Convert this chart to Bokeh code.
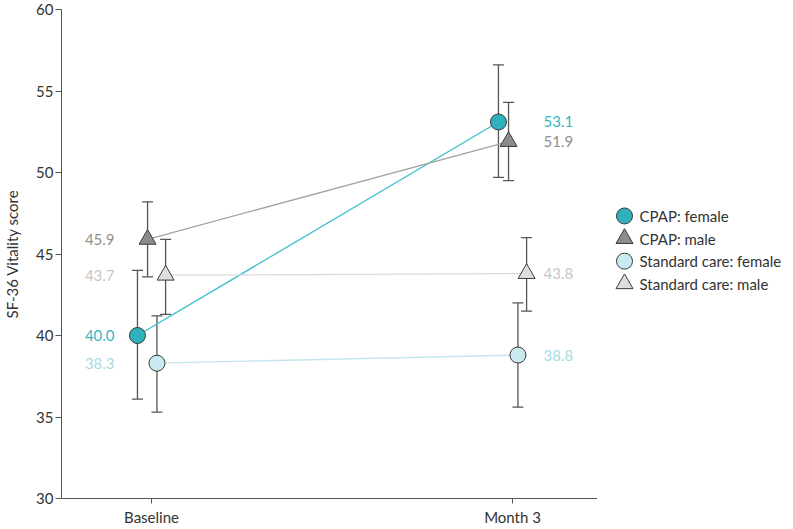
from bokeh.plotting import figure
from bokeh.layouts import row
from bokeh.models import (ColumnDataSource, Whisker, TeeHead, FixedTicker, Range1d)
from bokeh.core.properties import value
from bokeh.embed import file_html
from bokeh.resources import INLINE

# ---- data ----
timepoints = ["Baseline", "Month 3"]
groups = ["CPAP: female", "CPAP: male", "Standard care: female", "Standard care: male"]
mean_cpap_female = [40.0, 53.1]
mean_cpap_male = [45.9, 51.9]
mean_sc_female = [38.3, 38.8]
mean_sc_male = [43.7, 43.8]
lower_cpap_female = [36.1, 49.7]
upper_cpap_female = [44.0, 56.6]
lower_cpap_male = [43.6, 49.5]
upper_cpap_male = [48.2, 54.3]
lower_sc_female = [35.3, 35.6]
upper_sc_female = [41.2, 42.0]
lower_sc_male = [41.3, 41.5]
upper_sc_male = [45.9, 46.0]
y_ticks = [30, 35, 40, 45, 50, 55, 60]

FONT = "Lato"
FRAME_H = 489
FIG_H = 526

p = figure(frame_width=536, frame_height=FRAME_H, output_backend="svg", toolbar_location=None,
           x_range=Range1d(-0.2494, 1.2354), y_range=Range1d(30, 60),
           min_border_left=54, min_border_top=9, min_border_bottom=0, min_border_right=0)
p.outline_line_color = None
p.xgrid.visible = False
p.ygrid.visible = False
p.background_fill_color = "white"

styles = [
    dict(off=-0.039, marker="circle", size=16, fill="#2eb1bd", line="#3cc0cb", label="#36b6c2"),
    dict(off=-0.011, marker="triangle", size=17, fill="#8c8c8c", line="#a3a3a3", label="#909090"),
    dict(off=0.015, marker="circle", size=16, fill="#c9eaf0", line="#c2e6ec", label="#a6dbe2"),
    dict(off=0.039, marker="triangle", size=17, fill="#dedede", line="#dadada", label="#c6c6c6"),
]
means = [mean_cpap_female, mean_cpap_male, mean_sc_female, mean_sc_male]
lowers = [lower_cpap_female, lower_cpap_male, lower_sc_female, lower_sc_male]
uppers = [upper_cpap_female, upper_cpap_male, upper_sc_female, upper_sc_male]

for s, m, lo, hi in zip(styles, means, lowers, uppers):
    xs = [i + s["off"] for i in range(len(timepoints))]
    src = ColumnDataSource(dict(x=xs, y=m, lo=lo, hi=hi))
    p.line("x", "y", source=src, line_color=s["line"], line_width=1.3)
    w = Whisker(base="x", lower="lo", upper="hi", source=src, line_color="#555555",
                line_width=1.3, level="underlay",
                upper_head=TeeHead(size=11, line_color="#555555", line_width=1.3),
                lower_head=TeeHead(size=11, line_color="#555555", line_width=1.3))
    p.add_layout(w)
    p.scatter("x", "y", source=src, marker=s["marker"], size=s["size"],
              fill_color=s["fill"], line_color="#3a3a3a", line_width=1)
    # value labels
    src0 = ColumnDataSource(dict(x=[0], y=[m[0]], t=["%.1f" % m[0]]))
    src1 = ColumnDataSource(dict(x=[1], y=[m[1]], t=["%.1f" % m[1]]))
    p.text("x", "y", text="t", source=src0, x_offset=-37, text_align="right",
           text_baseline="middle", text_font=value(FONT), text_font_size="15px",
           text_color=s["label"])
    p.text("x", "y", text="t", source=src1, x_offset=31, text_align="left",
           text_baseline="middle", text_font=value(FONT), text_font_size="15px",
           text_color=s["label"])

for ax in (p.xaxis[0], p.yaxis[0]):
    ax.axis_line_color = "#555555"
    ax.major_tick_line_color = "#555555"
    ax.minor_tick_line_color = None
    ax.major_tick_in = 0
    ax.major_tick_out = 6
    ax.major_label_text_font = FONT
    ax.major_label_text_font_size = "15px"
    ax.major_label_text_color = "#333333"
    ax.axis_label_text_font = FONT
    ax.axis_label_text_font_style = "normal"

p.xaxis.ticker = FixedTicker(ticks=[0, 1])
p.xaxis.major_label_overrides = {i: t for i, t in enumerate(timepoints)}
p.xaxis.major_tick_out = 5
p.xaxis.major_label_standoff = 4
p.yaxis.ticker = FixedTicker(ticks=y_ticks)
p.yaxis.major_label_standoff = 2
p.yaxis.axis_label = "SF-36 Vitality score"
p.yaxis.axis_label_text_font_size = "15px"
p.yaxis.axis_label_text_color = "#333333"
p.yaxis.axis_label_standoff = 12

# ---- legend panel (separate small figure, pixel-unit ranges) ----
LEG_W = 187
ROW_STEP = 24.4
FIRST_ROW = 223          # px from top of the legend figure
leg = figure(width=LEG_W, height=FIG_H, output_backend="svg", toolbar_location=None,
             x_axis_type=None, y_axis_type=None,
             x_range=Range1d(0, LEG_W),
             y_range=Range1d(-(FIG_H - FIRST_ROW) / ROW_STEP, FIRST_ROW / ROW_STEP),
             min_border=0)
leg.outline_line_color = None
leg.xgrid.visible = False
leg.ygrid.visible = False
rows_y = [-k for k in range(len(groups))]
leg_src = ColumnDataSource(dict(
    y=rows_y, label=groups,
    marker=[s["marker"] for s in styles],
    fill=[s["fill"] for s in styles],
    size=[s["size"] for s in styles]))
leg.scatter(x=27, y="y", source=leg_src, marker="marker", size="size",
            fill_color="fill", line_color="#3a3a3a", line_width=1)
leg.text(x=42, y="y", text="label", source=leg_src, text_baseline="middle",
         text_align="left", text_font=value(FONT), text_font_size="15px",
         text_color="#333333")

layout = row(p, leg, spacing=0)
open("out.html", "w").write(file_html(layout, INLINE))
